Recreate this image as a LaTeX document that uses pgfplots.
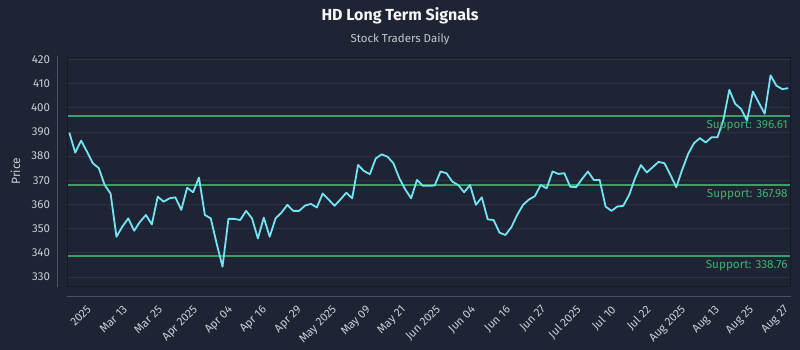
\documentclass[border=0pt]{standalone}
\usepackage{fontspec}
\setmainfont{Fira Sans}
\usepackage{pgfplots}
\usepackage{pgfplotstable}
\pgfplotsset{compat=1.18}
\definecolor{bg}{HTML}{1F2434}
\definecolor{framecol}{HTML}{151925}
\definecolor{gridcol}{HTML}{2B3243}
\definecolor{spinecol}{HTML}{4A5162}
\definecolor{tickcol}{HTML}{C9CDD6}
\definecolor{titlecol}{HTML}{F4F5F7}
\definecolor{subcol}{HTML}{C4C8D0}
\definecolor{linecol}{HTML}{72E4F4}
\definecolor{supcol}{HTML}{3A9E66}
\definecolor{suptext}{HTML}{3DB26E}

\pgfplotstableread{
i p
0 389.7
1 381.4
2 386.4
3 381.8
4 377.0
5 375.0
6 368.0
7 364.5
8 346.6
9 350.8
10 354.2
11 349.1
12 352.8
13 355.6
14 351.7
15 363.2
16 361.1
17 362.5
18 362.9
19 357.7
20 366.9
21 365.0
22 371.1
23 355.6
24 354.2
25 343.8
26 334.2
27 354.0
28 354.0
29 353.5
30 357.3
31 354.2
32 345.9
33 354.5
34 346.6
35 354.2
36 356.6
37 359.8
38 357.3
39 357.3
40 359.5
41 360.2
42 358.7
43 364.5
44 362.0
45 359.4
46 362.0
47 364.8
48 362.5
49 376.3
50 373.8
51 372.5
52 379.0
53 380.7
54 379.7
55 377.0
56 370.8
57 366.2
58 362.5
59 370.1
60 367.7
61 367.7
62 367.8
63 373.6
64 372.9
65 369.4
66 368.0
67 365.0
68 368.0
69 359.8
70 362.9
71 353.8
72 353.5
73 348.3
74 347.3
75 350.5
76 355.6
77 359.8
78 362.0
79 363.4
80 368.0
81 366.6
82 373.6
83 372.6
84 372.9
85 367.3
86 367.1
87 370.5
88 373.6
89 370.1
90 370.1
91 359.1
92 357.3
93 359.1
94 359.4
95 363.9
96 370.8
97 376.3
98 373.2
99 375.4
100 377.6
101 377.0
102 372.2
103 367.1
104 374.3
105 380.8
106 385.3
107 387.4
108 385.6
109 387.8
110 387.8
111 395.0
112 407.4
113 401.6
114 399.5
115 394.7
116 406.7
117 402.1
118 397.5
119 413.4
120 409.1
121 407.7
122 408.1
}\pricedata

\begin{document}
\begin{tikzpicture}[x=1pt,y=1pt]
\fill[bg] (0,0) rectangle (800,350);
\path[use as bounding box] (0,0) rectangle (800,350);
\node[text=titlecol, font=\fontsize{16}{19}\selectfont\bfseries] at (400,334) {HD Long Term Signals};
\node[text=subcol, font=\fontsize{11.5}{13}\selectfont] at (400,311) {Stock Traders Daily};
\node[text=tickcol, rotate=90, font=\fontsize{12}{14}\selectfont] at (15.5,179) {Price};
\draw[spinecol, line width=0.8pt] (57.3,63) -- (57.3,294);
\draw[spinecol, line width=0.8pt] (66.7,54) -- (790.7,54);
\begin{axis}[
  at={(67.5pt,63.5pt)}, anchor=south west,
  scale only axis, width=722.8pt, height=229.5pt,
  xmin=-0.31, xmax=122.35, ymin=326, ymax=421,
  axis background/.style={fill=bg},
  axis line style={draw=framecol, line width=0.9pt},
  tick style={draw=none},
  ytick={330,340,...,420},
  ymajorgrids, grid style={draw=gridcol, line width=0.6pt},
  xtick={2.87,8.98,14.92,20.86,26.80,32.57,38.51,44.45,50.22,56.16,62.10,68.04,73.98,79.92,85.86,91.80,97.74,103.68,109.45,115.22,121.15},
  xticklabels={2025,Mar 13,Mar 25,Apr 2025,Apr 04,Apr 16,Apr 29,May 2025,May 09,May 21,Jun 2025,Jun 04,Jun 16,Jun 27,Jul 2025,Jul 10,Jul 22,Aug 2025,Aug 13,Aug 25,Aug 27},
  /pgf/number format/assume math mode=true,
  xticklabel style={yshift=-16.5pt, rotate=45, anchor=north east, inner sep=1pt, text=tickcol, font=\fontsize{11.5}{13}\selectfont},
  yticklabel style={text=tickcol, font=\fontsize{11.5}{13}\selectfont, xshift=-14pt},
  clip=true,
]
\addplot[draw=supcol, color=supcol, line width=2pt] coordinates {(-0.31,396.61) (122.35,396.61)};
\addplot[draw=supcol, color=supcol, line width=2pt] coordinates {(-0.31,367.98) (122.35,367.98)};
\addplot[draw=supcol, color=supcol, line width=2pt] coordinates {(-0.31,338.76) (122.35,338.76)};
\addplot[draw=linecol, color=linecol, line width=1.8pt, line join=round] table[x=i, y=p] {\pricedata};
\node[anchor=east, inner sep=0pt, text=suptext, font=\fontsize{11.7}{13}\selectfont] at (axis cs:122.35,396.61) [xshift=-2.5pt, yshift=-10pt] {Support: 396.61};
\node[anchor=east, inner sep=0pt, text=suptext, font=\fontsize{11.7}{13}\selectfont] at (axis cs:122.35,367.98) [xshift=-2.5pt, yshift=-10pt] {Support: 367.98};
\node[anchor=east, inner sep=0pt, text=suptext, font=\fontsize{11.7}{13}\selectfont] at (axis cs:122.35,338.76) [xshift=-2.5pt, yshift=-10pt] {Support: 338.76};
\end{axis}
\end{tikzpicture}
\end{document}
